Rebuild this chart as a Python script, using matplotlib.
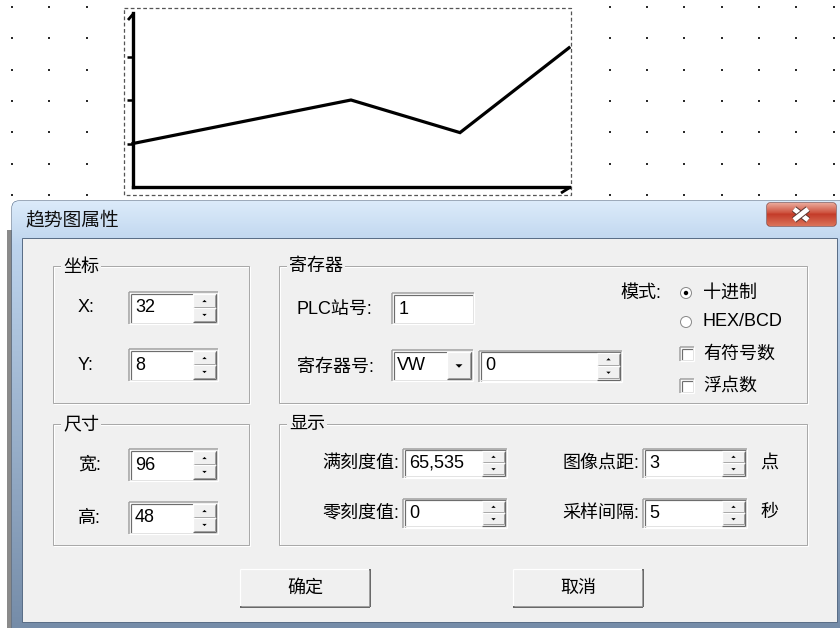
import numpy as np
import matplotlib
matplotlib.use('Agg')
import matplotlib.pyplot as plt
from matplotlib.patches import Rectangle, FancyBboxPatch, Circle, Polygon
import matplotlib.patheffects as pe

plt.rcParams['font.family'] = ['Liberation Sans', 'Noto Sans CJK SC', 'DejaVu Sans']

# trend curve in the preview widget
trend_x = [0, 2, 3, 4]
trend_y = [1.0, 2.0, 1.25, 3.2]
y_ticks = [1, 2, 3]

# dialog texts
dialog_title = '趋势图属性'
group_titles = ['坐标', '尺寸', '寄存器', '显示']
pos_labels = ['X:', 'Y:']
pos_values = ['32', '8']
size_labels = ['宽:', '高:']
size_values = ['96', '48']
plc_label = 'PLC站号:'
plc_value = '1'
reg_label = '寄存器号:'
reg_type = 'VW'
reg_value = '0'
mode_label = '模式:'
mode_options = ['十进制', 'HEX/BCD']
flag_options = ['有符号数', '浮点数']
scale_labels = ['满刻度值:', '零刻度值:']
scale_values = ['65,535', '0']
sample_labels = ['图像点距:', '采样间隔:']
sample_values = ['3', '5']
sample_units = ['点', '秒']
button_labels = ['确定', '取消']

W, H = 840, 628
PX = 0.72  # points per pixel at dpi 100
FS = 13

fig = plt.figure(figsize=(W / 100, H / 100), dpi=100)
fig.patch.set_facecolor('white')
ax = fig.add_axes([0, 0, 1, 1])
ax.set_xlim(0, W)
ax.set_ylim(H, 0)
ax.axis('off')


def line(x0, y0, x1, y1, c, w=1):
    ax.plot([x0, x1], [y0, y1], color=c, lw=w * PX, solid_capstyle='butt')


def sunken(x0, y0, x1, y1, face='white'):
    ax.add_patch(Rectangle((x0, y0), x1 - x0, y1 - y0, fc=face, ec='none'))
    line(x0, y0, x1, y0, '#a0a0a0', 1.5)
    line(x0, y0, x0, y1, '#a0a0a0', 1.5)
    line(x0 + 1.5, y0 + 1.5, x1 - 1, y0 + 1.5, '#6d6d6d', 1.2)
    line(x0 + 1.5, y0 + 1.5, x0 + 1.5, y1 - 1, '#6d6d6d', 1.2)
    line(x0, y1, x1, y1, '#ffffff', 1.2)
    line(x1, y0, x1, y1, '#ffffff', 1.2)
    line(x0 + 1, y1 - 1.2, x1 - 1, y1 - 1.2, '#e3e3e3', 1)
    line(x1 - 1.2, y0 + 1, x1 - 1.2, y1 - 1, '#e3e3e3', 1)


def raised(x0, y0, x1, y1, face='#f0f0f0', thick=1.2):
    ax.add_patch(Rectangle((x0, y0), x1 - x0, y1 - y0, fc=face, ec='none'))
    line(x0, y0, x1, y0, '#ffffff', 1.2)
    line(x0, y0, x0, y1, '#ffffff', 1.2)
    line(x0, y1, x1, y1, '#696969', thick)
    line(x1, y0, x1, y1, '#696969', thick)
    line(x0 + 1, y1 - 1.3, x1 - 1.3, y1 - 1.3, '#a0a0a0', 1)
    line(x1 - 1.3, y0 + 1, x1 - 1.3, y1 - 1.3, '#a0a0a0', 1)


def arrow(xc, yc, up, s=2.2):
    d = -1 if up else 1
    ax.add_patch(Polygon([(xc - s, yc - d * s / 2), (xc + s, yc - d * s / 2),
                          (xc, yc + d * s / 2)], closed=True, fc='black', ec='none'))


def spin_edit(x0, x1, yc, h, text, sw=25):
    y0, y1 = yc - h / 2, yc + h / 2
    sunken(x0, y0, x1, y1)
    sx0 = x1 - sw
    mid = yc
    raised(sx0, y0 + 2, x1 - 2, mid)
    raised(sx0, mid, x1 - 2, y1 - 2)
    arrow((sx0 + x1 - 2) / 2, (y0 + 2 + mid) / 2, True)
    arrow((sx0 + x1 - 2) / 2, (mid + y1 - 2) / 2, False)
    ax.text(x0 + 6, yc, text, fontsize=FS, va='center', ha='left')


def group(x0, y0, x1, y1, title, tx):
    ax.add_patch(Rectangle((x0 + 1, y0 + 1), x1 - x0, y1 - y0, fill=False,
                           ec='white', lw=1 * PX))
    ax.add_patch(Rectangle((x0, y0), x1 - x0, y1 - y0, fill=False,
                           ec='#a9a9a9', lw=1 * PX))
    ax.text(tx, y0 + 1, title, fontsize=FS, va='center', ha='left',
            bbox=dict(fc='#f0f0f0', ec='none', pad=1.5))


# ---- canvas with dot grid ----
for gx in np.arange(12, W, 37.35):
    for gy in np.arange(7, 200, 31.3):
        if 122 <= gx <= 573 and gy <= 197:
            continue
        ax.add_patch(Rectangle((gx - 1, gy - 1), 2, 2, fc='#2b2b2b', ec='none'))

ax.add_patch(Rectangle((124, 8), 447, 187, fill=False, ec='#555555',
                       ls=(0, (3, 2)), lw=0.9))

# hooks at the axis ends
line(128, 20, 134, 13, 'black', 2.8)
line(561, 193, 569, 188, 'black', 2.8)

# ---- trend preview axes ----
cx0, cx1, cy0, cy1 = 133, 569, 13, 187
chart = fig.add_axes([cx0 / W, 1 - cy1 / H, (cx1 - cx0) / W, (cy1 - cy0) / H])
chart.set_facecolor('none')
chart.plot(trend_x, trend_y, color='black', lw=2.3, clip_on=False,
           solid_joinstyle='miter')
chart.set_xlim(0, 4)
chart.set_ylim(0, 4)
for s in ['top', 'right']:
    chart.spines[s].set_visible(False)
for s in ['left', 'bottom']:
    chart.spines[s].set_linewidth(2.4)
chart.set_xticks([])
chart.set_yticks(y_ticks)
chart.set_yticklabels([])
chart.tick_params(axis='y', length=4, width=1.8, direction='out')

# ---- dialog frame ----
ax.add_patch(Rectangle((7, 230), 5, H - 230, fc='#8a8a8a', ec='none'))
frame = FancyBboxPatch((12, 201), 840, 440, boxstyle='round,pad=0,rounding_size=7',
                       fc='#b9cde4', ec='#4f6784', lw=0.8)
ax.add_patch(frame)
grad = np.linspace(0, 1, 200)[:, None]
top_c = np.array([0.86, 0.92, 0.98])
mid_c = np.array([0.74, 0.83, 0.93])
bot_c = np.array([0.45, 0.54, 0.65])
cols = np.where(grad < 0.1, top_c + (mid_c - top_c) * grad[:, :1] / 0.1,
                mid_c + (bot_c - mid_c) * (grad[:, :1] - 0.1) / 0.9)
img = ax.imshow(cols[:, None, :].repeat(2, axis=1), extent=(12, 852, 641, 201),
                aspect='auto', origin='upper', zorder=2)
img.set_clip_path(frame)
ax.text(25, 220, dialog_title, fontsize=13.5, va='center', ha='left', zorder=5,
        color='#101010')

# close button
close = FancyBboxPatch((767, 203), 69, 23, boxstyle='round,pad=0,rounding_size=3',
                       fc='#c84a36', ec='#6e2a22', lw=0.8, zorder=4)
ax.add_patch(close)
rg = np.linspace(0, 1, 50)[:, None]
c_a = np.array([0.92, 0.66, 0.60])
c_b = np.array([0.80, 0.30, 0.22])
c_c = np.array([0.76, 0.22, 0.15])
c_d = np.array([0.86, 0.45, 0.35])
rcols = np.where(rg < 0.45, c_a + (c_b - c_a) * rg / 0.45,
                 c_c + (c_d - c_c) * (rg - 0.45) / 0.55)
cimg = ax.imshow(rcols[:, None, :].repeat(2, axis=1), extent=(767, 836, 226, 203),
                 aspect='auto', origin='upper', zorder=4)
cimg.set_clip_path(close)
for xa, ya, xb, yb in [(794, 209, 808, 220), (794, 220, 808, 209)]:
    ax.plot([xa, xb], [ya, yb], color='white', lw=3.4, zorder=6,
            solid_capstyle='butt',
            path_effects=[pe.Stroke(linewidth=4.8, foreground='#5a3530'), pe.Normal()])

# client area
ax.add_patch(Rectangle((22, 238), 815, 384, fc='#f0f0f0', ec='#5a6e87',
                       lw=1 * PX, zorder=3))

# everything below sits above the frame
_z = 4
_plot = ax.plot
_add = ax.add_patch
_text = ax.text


def zplot(*a, **k):
    k.setdefault('zorder', _z)
    return _plot(*a, **k)


def zadd(p):
    p.set_zorder(_z)
    return _add(p)


def ztext(*a, **k):
    k.setdefault('zorder', _z + 1)
    return _text(*a, **k)


ax.plot, ax.add_patch, ax.text = zplot, zadd, ztext

# group boxes
group(53, 266, 249, 403, group_titles[0], 63)
group(53, 424, 249, 545, group_titles[1], 63)
group(279, 266, 807, 403, group_titles[2], 289)
group(279, 424, 807, 545, group_titles[3], 289)

# position and size
for lab, val, yc in zip(pos_labels, pos_values, [308, 365]):
    ax.text(78, yc, lab, fontsize=FS, va='center', ha='left')
    spin_edit(129, 218, yc, 32, val)
for lab, val, yc in zip(size_labels, size_values, [465, 518]):
    ax.text(78, yc, lab, fontsize=FS, va='center', ha='left')
    spin_edit(129, 218, yc, 32, val)

# register
ax.text(297, 309, plc_label, fontsize=FS, va='center', ha='left')
sunken(392, 293, 474, 324)
ax.text(399, 309, plc_value, fontsize=FS, va='center', ha='left')

ax.text(297, 367, reg_label, fontsize=FS, va='center', ha='left')
sunken(392, 350, 473, 381)
raised(447, 352, 471, 379)
arrow(459, 366, False, s=3.5)
ax.text(397, 366, reg_type, fontsize=FS, va='center', ha='left')
spin_edit(479, 622, 366, 31, reg_value)

ax.text(620, 293, mode_label, fontsize=FS, va='center', ha='left')
for i, (opt, yc) in enumerate(zip(mode_options, [293, 322])):
    ax.add_patch(Circle((686, yc), 5.5, fc='white', ec='#8a8a8a', lw=1 * PX))
    if i == 0:
        ax.add_patch(Circle((686, yc), 2.2, fc='black', ec='none'))
    ax.text(703, yc, opt, fontsize=FS, va='center', ha='left')
for opt, yc in zip(flag_options, [354, 386]):
    sunken(680, yc - 7, 694, yc + 7)
    ax.text(703, yc, opt, fontsize=FS, va='center', ha='left')

# display
for lab, val, yc in zip(scale_labels, scale_values, [463, 513]):
    ax.text(399, yc, lab, fontsize=FS, va='center', ha='right')
    spin_edit(403, 507, yc, 29, val)
for lab, val, unit, yc in zip(sample_labels, sample_values, sample_units, [463, 513]):
    ax.text(639, yc, lab, fontsize=FS, va='center', ha='right')
    spin_edit(643, 747, yc, 29, val)
    ax.text(760, yc, unit, fontsize=FS, va='center', ha='left')

# buttons
for lab, bx in zip(button_labels, [240, 513]):
    raised(bx, 569, bx + 130, 607, thick=2)
    ax.text(bx + 65, 588, lab, fontsize=FS, va='center', ha='center')

fig.savefig('out.png', dpi=100)
